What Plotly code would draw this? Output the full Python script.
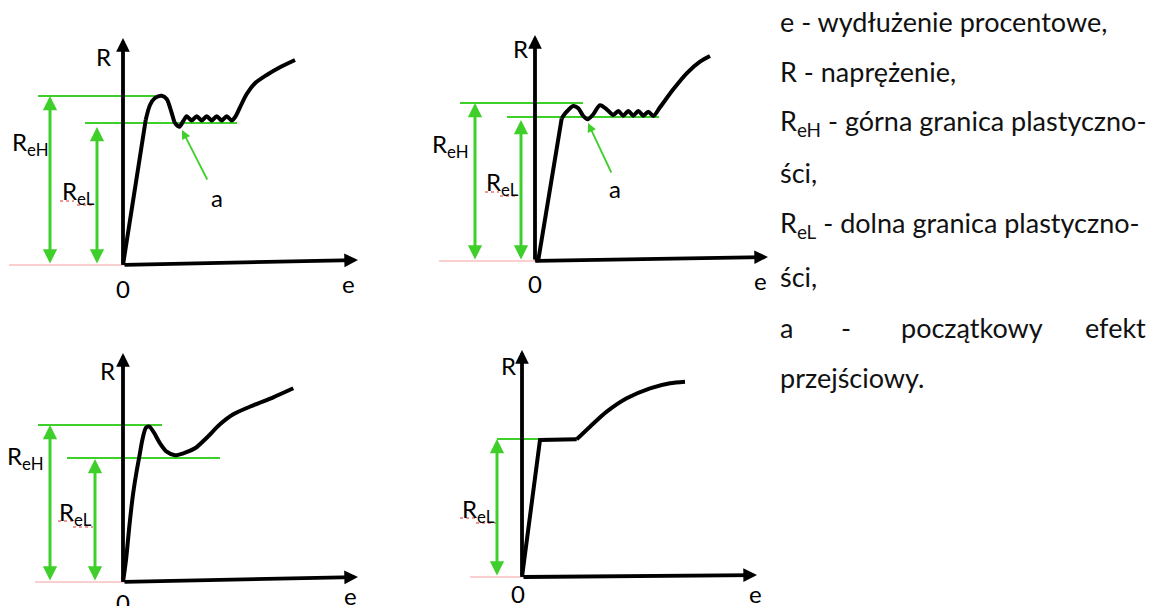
import plotly.graph_objects as go

W, H = 1161, 606
BLACK = "#000000"
GREEN = "#3FCF2A"
LIGHTRED = "#F4A0A0"
FONT = "Lato"

# ---------------- data: strain e (horizontal) vs stress R (vertical), drawing units ----------------
# Panel 1: distinct upper yield point, wavy yield plateau, then hardening
p1_lin_e = [0, 22.7]
p1_lin_R = [0, 145]
p1_e = [22.7, 27, 32, 38.7, 43.7, 48.7, 52, 56.3, 60.3, 63.7, 68.7, 73.7, 78.7, 83.7, 88.7,
        93.7, 98.7, 103.7, 108.7, 112, 117, 123.7, 132, 143.7, 157, 172]
p1_R = [145, 160, 167, 169.3, 166, 152, 142, 138.3, 144, 148.7, 144.5, 148.7, 144.5, 148.7, 144.5,
        148.7, 144.5, 148.7, 144.5, 147.7, 157.7, 171, 181.7, 190, 197.7, 205]
p1_ReH, p1_ReL = 169, 142

# Panel 2: small upper yield point, wavy plateau
p2_lin_e = [0, 3.3, 26.7]
p2_lin_R = [0, 1, 142.7]
p2_e = [26.7, 31.7, 38.3, 43.3, 48.3, 52.7, 57.7, 65, 71.7, 78.3, 83.3, 88.3, 93.3, 98.3,
        103.3, 108.3, 113.3, 118.3, 125, 138.3, 151.7, 165, 175]
p2_R = [142.7, 149.3, 155, 152.7, 145, 141.7, 146, 155.7, 151.7, 146, 150, 145.3, 150, 145.3,
        150, 145.3, 149.3, 145, 153.7, 171.7, 187.7, 199.3, 205]
p2_ReH, p2_ReL = 158, 144

# Panel 3: upper yield point, smooth drop, hardening
p3_e = [0, 3, 6.3, 9.7, 13, 16.3, 19.7, 23, 26.3, 31, 37, 43.7, 52, 60.3, 72, 83.7,
        97, 110.3, 130.3, 150.3, 170.3]
p3_R = [0, 22, 55.3, 85.3, 107, 125.3, 143.7, 154.3, 155.3, 149.3, 138.7, 130.3, 126.7, 128.7, 133.7, 144.3,
        157.7, 167.7, 176.7, 184.7, 193.7]
p3_ReH, p3_ReL = 157, 124

# Panel 4: flat yield plateau, then hardening
p4_lin_e = [0, 18, 54.7]
p4_lin_R = [0, 137, 137.7]
p4_e = [54.7, 68, 84.7, 104.7, 128, 148, 163]
p4_R = [137.7, 150.3, 165.3, 178.7, 188.7, 193.7, 195.3]
p4_ReL = 138

# legend text (right column)
legend_lines = [
    "e - wydłużenie procentowe,",
    "R - naprężenie,",
    "R<sub>eH</sub> - górna granica plastyczno-",
    "ści,",
    "R<sub>eL</sub> - dolna granica plastyczno-",
    "ści,",
    None,  # justified line, drawn word by word
    "przejściowy.",
]
justified_words = ["a", "-", "początkowy", "efekt"]

# ---------------- geometry (pixels / drawing units) ----------------
panels = [
    dict(curves=[(p1_lin_e, p1_lin_R, "linear"), (p1_e, p1_R, "spline")],
         origin=(123, 265), region=(0, 380, 0, 300),
         xtip=(235, 5), ytip=227,
         levels=[(p1_ReH, -85, 39), (p1_ReL, -38, 114)],
         arrows=[(-73, p1_ReH), (-26, p1_ReL - 4)],
         red=-114,
         R_lbl=(-20, 209), zero_lbl=(0, -23), e_lbl=(225, -18),
         labels=[("R<sub>eH</sub>", -93, 122), ("R<sub>eL</sub>", -45, 73)],
         squiggle=[(-63, -49, 64), (-46, -28, 60)],
         a_lbl=(94, 68), a_arrow=((85, 84), (59, 135))),
    dict(curves=[(p2_lin_e, p2_lin_R, "linear"), (p2_e, p2_R, "spline")],
         origin=(535, 261), region=(380, 780, 0, 300),
         xtip=(233, 4), ytip=226,
         levels=[(p2_ReH, -75, 48), (p2_ReL, -28, 124)],
         arrows=[(-60, p2_ReH), (-14, p2_ReL - 3)],
         red=-96,
         R_lbl=(-15, 213), zero_lbl=(0, -22), e_lbl=(225, -19),
         labels=[("R<sub>eH</sub>", -85, 116), ("R<sub>eL</sub>", -33, 78)],
         squiggle=[(-50, -36, 69), (-35, -17, 65)],
         a_lbl=(80, 73), a_arrow=((77, 87), (53, 138))),
    dict(curves=[(p3_e, p3_R, "spline")],
         origin=(123, 582), region=(0, 380, 300, 606),
         xtip=(235, 5), ytip=229,
         levels=[(p3_ReH, -85, 39), (p3_ReL, -56, 97)],
         arrows=[(-73, p3_ReH), (-28, p3_ReL - 1)],
         red=-88,
         R_lbl=(-16, 212), zero_lbl=(0, -20), e_lbl=(227, -13),
         labels=[("R<sub>eH</sub>", -98, 125), ("R<sub>eL</sub>", -48, 69)],
         squiggle=[(-65, -50, 61), (-50, -30, 55)],
         a_lbl=None, a_arrow=None),
    dict(curves=[(p4_lin_e, p4_lin_R, "linear"), (p4_e, p4_R, "spline")],
         origin=(522, 577), region=(380, 780, 300, 606),
         xtip=(235, 2), ytip=227,
         levels=[(p4_ReL, -25, 55)],
         arrows=[(-25, p4_ReL)],
         red=-52,
         R_lbl=(-14, 212), zero_lbl=(-4, -16), e_lbl=(233, -16),
         labels=[("R<sub>eL</sub>", -44, 67)],
         squiggle=[(-62, -46, 59), (-46, -26, 54)],
         a_lbl=None, a_arrow=None),
]

legend_x = 778
legend_y = [22, 71, 122, 173, 224, 276, 327, 377]
justified_pos = [(778, "left"), (846, "center"), (972, "center"), (1148, "right")]
legend_size = 27
label_size = 24

fig = go.Figure()
annotations = []
layout_axes = {}

for i, p in enumerate(panels):
    n = "" if i == 0 else str(i + 1)
    xa, ya = "x" + n, "y" + n
    ox, oy = p["origin"]
    x0, x1, y0, y1 = p["region"]
    layout_axes["xaxis" + n] = dict(domain=[x0 / W, x1 / W], range=[x0 - ox, x1 - ox],
                                    visible=False, fixedrange=True, anchor=ya)
    layout_axes["yaxis" + n] = dict(domain=[1 - y1 / H, 1 - y0 / H], range=[oy - y1, oy - y0],
                                    visible=False, fixedrange=True, anchor=xa)

    def line(xs, ys, color, width, shape="linear", dash="solid"):
        fig.add_trace(go.Scatter(x=xs, y=ys, mode="lines", xaxis=xa, yaxis=ya,
                                 line=dict(color=color, width=width, shape=shape, dash=dash,
                                           smoothing=0.8 if shape == "spline" else None),
                                 hoverinfo="skip", showlegend=False))

    # thin red base line
    line([p["red"], 0], [0, 0], LIGHTRED, 1.2)
    # green level lines
    for (lv, e0, e1) in p["levels"]:
        line([e0, e1], [lv, lv], GREEN, 2.2)
    # curve
    for (xs, ys, shape) in p["curves"]:
        line(xs, ys, BLACK, 4, shape)
    # red spell-check squiggles under R_eL
    for (e0, e1, r) in p["squiggle"]:
        line([e0, e1], [r, r], "#E03030", 1, dash="dot")

    def ann(**kw):
        base = dict(xref=xa, yref=ya)
        base.update(kw)
        annotations.append(base)

    # axes with arrow heads
    ann(x=p["xtip"][0], y=p["xtip"][1], ax=0, ay=0, axref=xa, ayref=ya, text="",
        showarrow=True, arrowhead=2, arrowsize=0.72, arrowwidth=3.8, arrowcolor=BLACK)
    ann(x=0, y=p["ytip"], ax=0, ay=0, axref=xa, ayref=ya, text="",
        showarrow=True, arrowhead=2, arrowsize=0.72, arrowwidth=3.8, arrowcolor=BLACK)
    # green double arrows
    for (e, top) in p["arrows"]:
        ann(x=e, y=top, ax=e, ay=0, axref=xa, ayref=ya, text="",
            showarrow=True, arrowhead=2, arrowside="end+start", arrowsize=0.95,
            arrowwidth=3, arrowcolor=GREEN)
    # texts
    for (txt, (ex, ry)) in [("R", p["R_lbl"]), ("0", p["zero_lbl"]), ("e", p["e_lbl"])]:
        ann(x=ex, y=ry, text=txt, showarrow=False, xanchor="center", yanchor="middle",
            font=dict(family=FONT, size=label_size, color=BLACK))
    for (txt, ex, ry) in p["labels"]:
        ann(x=ex, y=ry, text=txt, showarrow=False, xanchor="center", yanchor="middle",
            font=dict(family=FONT, size=label_size, color=BLACK))
    if p["a_arrow"]:
        (te, tr), (he, hr) = p["a_arrow"]
        ann(x=he, y=hr, ax=te, ay=tr, axref=xa, ayref=ya, text="", showarrow=True,
            arrowhead=2, arrowsize=1.0, arrowwidth=1.8, arrowcolor=GREEN)
        ann(x=p["a_lbl"][0], y=p["a_lbl"][1], text="a", showarrow=False,
            xanchor="center", yanchor="middle",
            font=dict(family=FONT, size=label_size, color=BLACK))

# right column text
for txt, py in zip(legend_lines, legend_y):
    if txt is None:
        for word, (px, anchor) in zip(justified_words, justified_pos):
            annotations.append(dict(xref="paper", yref="paper", x=px / W, y=1 - py / H,
                                    text=word, showarrow=False, xanchor=anchor, yanchor="middle",
                                    font=dict(family=FONT, size=legend_size, color="#111111")))
    else:
        annotations.append(dict(xref="paper", yref="paper", x=legend_x / W, y=1 - py / H,
                                text=txt, showarrow=False, xanchor="left", yanchor="middle",
                                font=dict(family=FONT, size=legend_size, color="#111111")))

fig.update_layout(width=W, height=H, margin=dict(l=0, r=0, t=0, b=0),
                  paper_bgcolor="white", plot_bgcolor="white",
                  showlegend=False, annotations=annotations, **layout_axes)

fig.write_html("out.html", config={"displayModeBar": False, "staticPlot": True},
               post_script="document.body.style.margin='0px';document.body.style.overflow='hidden';")
